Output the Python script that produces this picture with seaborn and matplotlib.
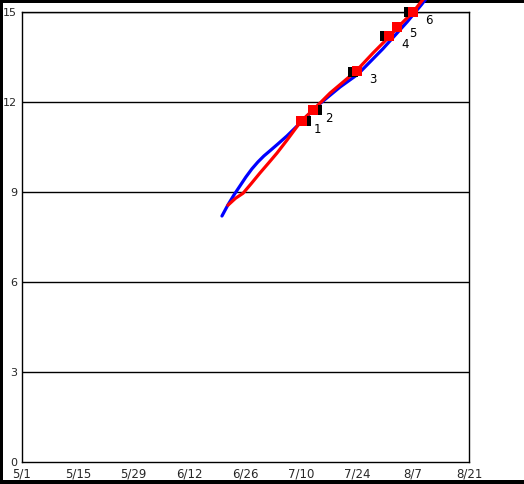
import numpy as np
import pandas as pd
import seaborn as sns
import matplotlib
matplotlib.use("Agg")
import matplotlib.pyplot as plt
from matplotlib.patches import Rectangle

# days counted from 5/1
tick_days = [0, 14, 28, 42, 56, 70, 84, 98, 112]
tick_labels = ["5/1", "5/15", "5/29", "6/12", "6/26", "7/10", "7/24", "8/7", "8/21"]

blue_day = [50.1, 51.6, 53.1, 54.6, 56.1, 57.6, 59.1, 60.6, 62.1, 64.1, 66.4, 69.7,
            72.2, 74.7, 79.7, 84.2, 90.4, 96.5, 100.0, 102.0]
blue_val = [8.21, 8.58, 8.91, 9.21, 9.51, 9.78, 10.01, 10.21, 10.38, 10.61, 10.88, 11.31,
            11.64, 11.96, 12.51, 12.94, 13.78, 14.68, 15.24, 15.58]

red_day = [51.6, 53.5, 55.4, 57.5, 59.6, 61.8, 63.9, 66.4, 69.9, 72.9, 77.2, 83.7, 88.0, 92.2, 94.2, 98.0, 101.5]
red_val = [8.57, 8.80, 8.97, 9.30, 9.64, 9.98, 10.31, 10.74, 11.37, 11.74, 12.31, 13.04, 13.65, 14.21, 14.51, 15.01, 15.6]

red_sq_day = [70, 73, 84, 92, 94, 98]
red_sq_val = [11.37, 11.74, 13.04, 14.21, 14.51, 15.01]
black_sq_day = [71, 74, 83, 91, 97]
black_sq_val = [11.37, 11.74, 13.02, 14.21, 15.01]
sq_labels = ["1", "2", "3", "4", "5", "6"]

sns.set_style("white")
plt.rcParams["font.family"] = ["DejaVu Sans"]

fig = plt.figure(figsize=(5.24, 4.84), dpi=100)
W, H = 524, 484
for x0, y0, w, h in [(0, 0, 3, H), (0, H - 3, W, 3), (0, 0, W, 4)]:
    fig.add_artist(Rectangle((x0 / W, y0 / H), w / W, h / H, transform=fig.transFigure,
                             facecolor="black", edgecolor="none", zorder=0))

ax = fig.add_axes([22 / W, 1 - 462.3 / H, 447 / W, 450 / H])

for y in [3, 6, 9, 12, 15]:
    ax.axhline(y, color="black", lw=1, zorder=1)

sns.lineplot(x=blue_day, y=blue_val, sort=False, color="#0000ff", lw=2.3, ax=ax, zorder=3)
ax.lines[-1].set_clip_on(False)
sns.lineplot(x=red_day, y=red_val, sort=False, color="#ff0000", lw=2.3, ax=ax, zorder=4)
ax.lines[-1].set_clip_on(False)

sns.scatterplot(x=black_sq_day, y=black_sq_val, marker="s", s=55, color="black",
                edgecolor="none", ax=ax, zorder=5, clip_on=False)
sns.scatterplot(x=red_sq_day, y=red_sq_val, marker="s", s=55, color="#ff0000",
                edgecolor="none", ax=ax, zorder=6, clip_on=False)

for d, v, t in zip(red_sq_day, red_sq_val, sq_labels):
    dy = -4.5 if t == "5" else -6
    ax.annotate(t, (d, v), xytext=(11.5, dy), textcoords="offset points",
                ha="center", va="center", fontsize=8.5, color="black")

ax.set_xlim(0, 112)
ax.set_ylim(0, 15)
ax.set_xticks(tick_days)
ax.set_xticklabels(tick_labels)
ax.set_yticks([0, 3, 6, 9, 12, 15])
ax.set_yticks([v for v in range(16) if v % 3 != 0], minor=True)
ax.tick_params(axis="x", direction="in", length=4, width=1, color="black",
               labelsize=8.5, pad=4)
ax.tick_params(axis="y", which="major", direction="in", length=0, labelsize=8, pad=3.5)
ax.tick_params(axis="y", which="minor", direction="in", length=4, width=0.8, color="#777777")

for s in ["left", "bottom", "right", "top"]:
    ax.spines[s].set_visible(True)
    ax.spines[s].set_color("black")
    ax.spines[s].set_linewidth(1)

ax.set_xlabel("")
ax.set_ylabel("")

fig.savefig("out.png", dpi=100)
